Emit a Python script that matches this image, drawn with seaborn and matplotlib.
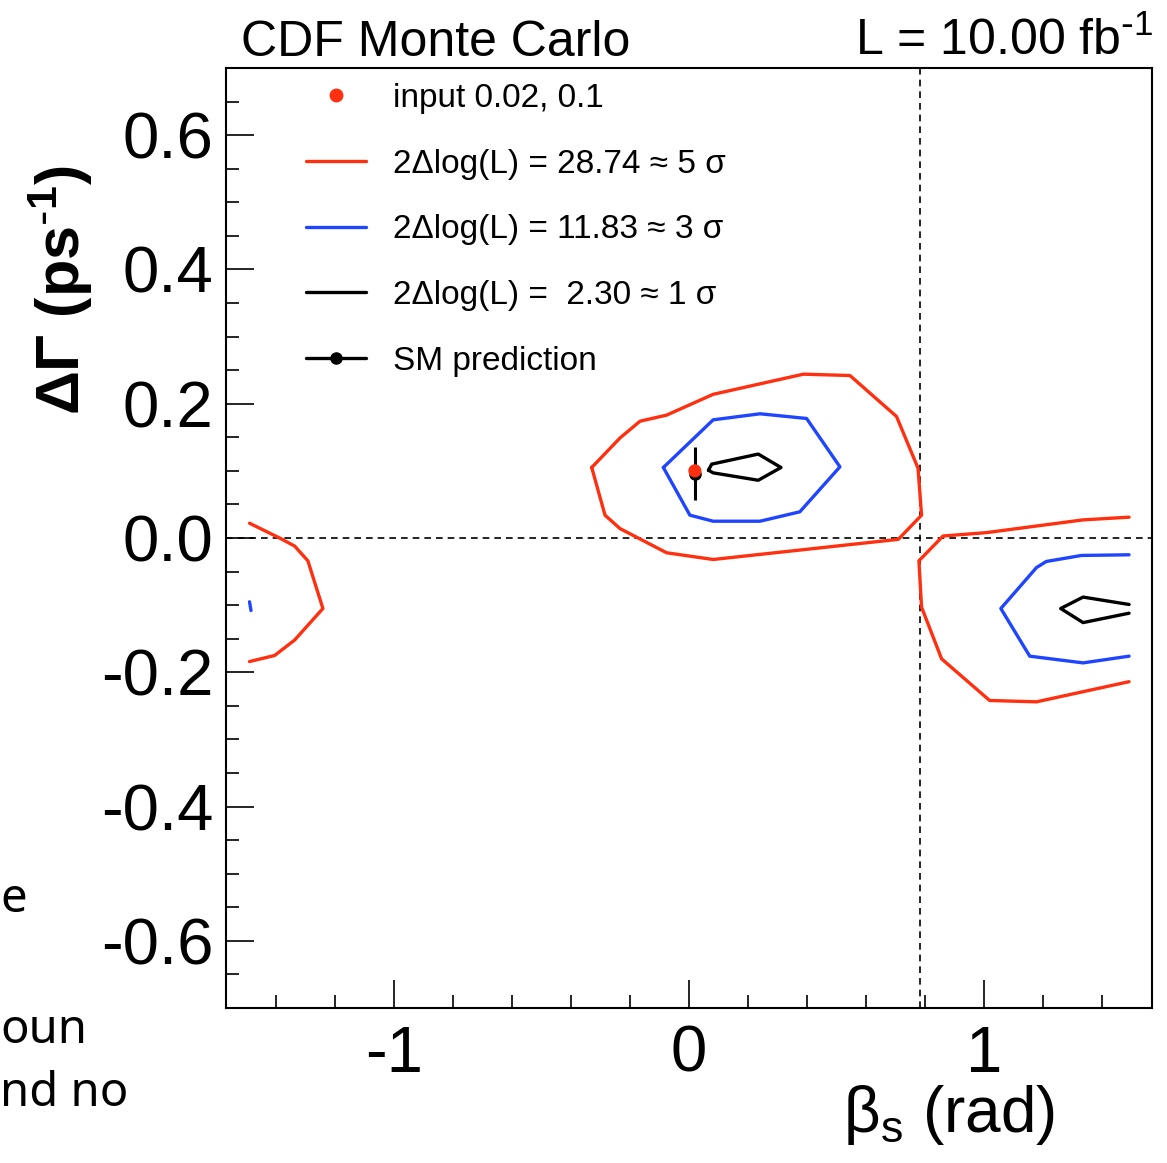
import numpy as np
import pandas as pd
import matplotlib
matplotlib.use("Agg")
import matplotlib.pyplot as plt
from matplotlib.lines import Line2D
from matplotlib.ticker import MultipleLocator
import seaborn as sns

# contour polylines: beta_s (rad) vs delta Gamma (ps^-1)
red_mid_x = [-0.330, -0.234, -0.166, -0.076, 0.082, 0.388, 0.546, 0.704, 0.777, 0.789, 0.710, 0.082, -0.076, -0.234, -0.285, -0.330]
red_mid_y = [0.105, 0.149, 0.174, 0.183, 0.214, 0.244, 0.242, 0.181, 0.104, 0.034, -0.002, -0.032, -0.022, 0.014, 0.034, 0.105]
red_right_x = [1.493, 1.337, 1.009, 0.862, 0.780, 0.789, 0.857, 1.020, 1.179, 1.493]
red_right_y = [0.031, 0.027, 0.008, 0.003, -0.034, -0.103, -0.180, -0.242, -0.244, -0.214]
red_left_x = [-1.491, -1.389, -1.338, -1.293, -1.242, -1.338, -1.406, -1.491]
red_left_y = [0.022, 0.000, -0.012, -0.034, -0.105, -0.152, -0.175, -0.184]

blue_mid_x = [-0.087, 0.082, 0.241, 0.399, 0.512, 0.376, 0.241, 0.082, 0.003, -0.087]
blue_mid_y = [0.105, 0.176, 0.185, 0.178, 0.106, 0.039, 0.025, 0.025, 0.034, 0.105]
blue_right_x = [1.493, 1.331, 1.212, 1.179, 1.058, 1.156, 1.337, 1.493]
blue_right_y = [-0.025, -0.026, -0.035, -0.044, -0.105, -0.176, -0.186, -0.176]
blue_left_x = [-1.491, -1.486]
blue_left_y = [-0.095, -0.108]

black_mid_x = [0.066, 0.077, 0.235, 0.312, 0.235, 0.082, 0.066]
black_mid_y = [0.101, 0.110, 0.125, 0.105, 0.086, 0.097, 0.101]
black_right_x = [1.493, 1.337, 1.261, 1.337, 1.493]
black_right_y = [-0.099, -0.088, -0.105, -0.126, -0.112]

input_point = (0.02, 0.1)
sm_point = (0.02, 0.096)
sm_err = 0.039
ref_beta = 0.785

legend_labels = ["input 0.02, 0.1",
                 "2\u0394log(L) = 28.74 \u2248 5 \u03c3",
                 "2\u0394log(L) = 11.83 \u2248 3 \u03c3",
                 "2\u0394log(L) =  2.30 \u2248 1 \u03c3",
                 "SM prediction"]

RED = "#ff3010"
BLUE = "#1f45ff"

segs = [
    ("5s", "rm", red_mid_x, red_mid_y), ("5s", "rr", red_right_x, red_right_y), ("5s", "rl", red_left_x, red_left_y),
    ("3s", "bm", blue_mid_x, blue_mid_y), ("3s", "br", blue_right_x, blue_right_y), ("3s", "bl", blue_left_x, blue_left_y),
    ("1s", "km", black_mid_x, black_mid_y), ("1s", "kr", black_right_x, black_right_y),
]
rows = []
for lev, name, xs, ys in segs:
    for i, (a, b) in enumerate(zip(xs, ys)):
        rows.append({"level": lev, "seg": name, "order": i, "beta": a, "dgamma": b})
df = pd.DataFrame(rows)

sns.set_theme(style="white")
plt.rcParams['font.family'] = ['Liberation Sans', 'DejaVu Sans']
plt.rcParams['mathtext.default'] = 'regular'
for k in ["text.color", "axes.labelcolor", "xtick.color", "ytick.color"]:
    plt.rcParams[k] = "black"

fig = plt.figure(figsize=(11.67, 11.63), dpi=100)
ax = fig.add_axes([226 / 1167, 1 - 1008 / 1163, 926 / 1167, 940 / 1163])

sns.lineplot(data=df, x="beta", y="dgamma", hue="level", units="seg", estimator=None, sort=False,
             palette={"5s": RED, "3s": BLUE, "1s": "black"}, linewidth=2.4, legend=False, ax=ax)

ax.axhline(0, color="black", lw=1.2, ls=(0, (4, 3)), zorder=1)
ax.axvline(ref_beta, color="black", lw=1.2, ls=(0, (4, 3)), zorder=1)

ax.errorbar([sm_point[0]], [sm_point[1]], yerr=[sm_err], fmt="o", color="black", ms=8,
            elinewidth=2.2, capsize=0, zorder=4)
sns.scatterplot(x=[input_point[0]], y=[input_point[1]], color=RED, s=90, edgecolor="none", zorder=5, ax=ax)

ax.set_xlim(-np.pi / 2, np.pi / 2)
ax.set_ylim(-0.7, 0.7)
ax.xaxis.set_major_locator(MultipleLocator(1))
ax.xaxis.set_minor_locator(MultipleLocator(0.2))
ax.yaxis.set_major_locator(MultipleLocator(0.2))
ax.yaxis.set_minor_locator(MultipleLocator(0.05))
ax.set_yticks([-0.6, -0.4, -0.2, 0.0, 0.2, 0.4, 0.6])
ax.set_yticklabels(["-0.6", "-0.4", "-0.2", "0.0", "0.2", "0.4", "0.6"])
ax.set_xticks([-1, 0, 1])
ax.set_xticklabels(["-1", "0", "1"])
ax.tick_params(which="both", direction="in", bottom=True, left=True, top=False, right=False,
               width=1.2, color="black")
ax.tick_params(which="major", length=20, labelsize=47)
ax.tick_params(which="minor", length=9.5)
ax.tick_params(axis="y", which="major", pad=9)
ax.tick_params(axis="x", which="major", pad=12)
for sp in ax.spines.values():
    sp.set_color("black")
    sp.set_linewidth(1.5)

ax.set_xlabel("\u03b2$_{s}$ (rad)", fontsize=46)
ax.xaxis.set_label_coords(0.781, -0.08)
ax.set_ylabel("\u0394\u0393 (ps$^{\\text{-}1}$)", fontsize=44, fontweight="bold")
ax.yaxis.set_label_coords(-0.141, 0.764)

handles = [
    Line2D([], [], color=RED, marker="o", ls="none", ms=9),
    Line2D([], [], color=RED, lw=2.4),
    Line2D([], [], color=BLUE, lw=2.4),
    Line2D([], [], color="black", lw=2.4),
    Line2D([], [], color="black", lw=2.4, marker="o", ms=8),
]
ax.legend(handles, legend_labels, loc="upper left", bbox_to_anchor=(0.0864, 0.984), frameon=False,
          fontsize=24, handlelength=1.8, handletextpad=0.8, labelspacing=1.04, borderpad=0, borderaxespad=0)

fig.text(241 / 1167, 1 - 56 / 1163, "CDF Monte Carlo", fontsize=36, va="baseline", ha="left")
fig.text(1153 / 1167, 1 - 55 / 1163, "L = 10.00 fb$^{\\text{-}1}$", fontsize=36, va="baseline", ha="right")

# text fragments bleeding in from the page next to the plot
fig.text(0.0, 1 - 912 / 1163, "e", fontsize=34, family="Noto Sans", ha="left", va="baseline")
fig.text(0.0, 1 - 1043 / 1163, "oun", fontsize=34, family="Noto Sans", ha="left", va="baseline")
fig.text(0.0, 1 - 1106 / 1163, "nd no", fontsize=34, family="Noto Sans", ha="left", va="baseline")

fig.savefig("out.png", dpi=100)
